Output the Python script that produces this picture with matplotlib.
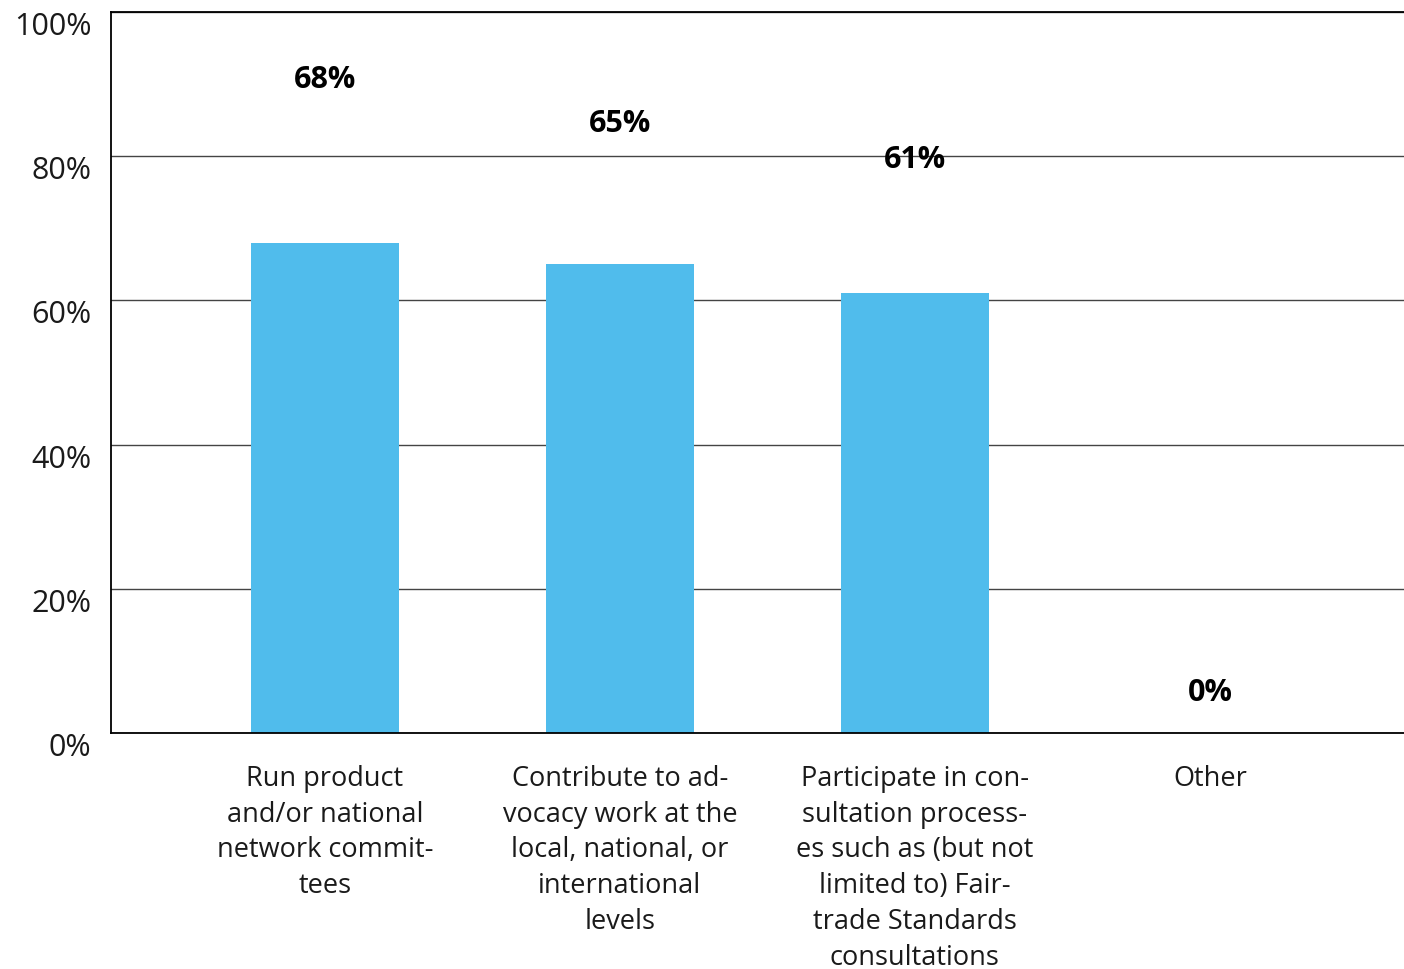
import numpy as np
from matplotlib import pyplot as plt

# data
categories = ["Run product\nand/or national\nnetwork commit-\ntees",
              "Contribute to ad-\nvocacy work at the\nlocal, national, or\ninternational\nlevels",
              "Participate in con-\nsultation process-\nes such as (but not\nlimited to) Fair-\ntrade Standards\nconsultations",
              "Other"]
values = [68, 65, 61, 0]
value_labels = ["68%", "65%", "61%", "0%"]
label_y = [90.6, 84.4, 79.5, 5.5]   # where the value labels sit (data units)
yticks = [0, 20, 40, 60, 80, 100]

plt.rcParams['font.family'] = ['Open Sans', 'DejaVu Sans']

fig = plt.figure(figsize=(14.04, 9.69), dpi=100)
ax = fig.add_axes([0.079, 0.2436, 0.921, 0.744])

x = np.arange(len(categories))
ax.bar(x, values, width=0.5, color='#50BCEC', zorder=2)

for i in range(len(x)):
    ax.text(x[i], label_y[i], value_labels[i], ha='center', va='center',
            fontsize=22, fontweight='bold', color='black', zorder=3)

ax.set_xlim(-0.725, 3.658)
ax.set_ylim(0, 100)
ax.set_yticks(yticks)
ax.set_yticklabels([f'{t}%' for t in yticks], fontsize=22,
                   va='top', color='#1a1a1a')
ax.yaxis.grid(True, color='#444444', linewidth=1, zorder=1)
ax.tick_params(axis='y', length=0, pad=14)
ax.set_xticks(x)
ax.set_xticklabels(categories, fontsize=19.5, linespacing=1.37,
                   color='#1a1a1a')
ax.tick_params(axis='x', length=0, pad=23)

for s in ['left', 'top', 'bottom']:
    ax.spines[s].set_color('black')
    ax.spines[s].set_linewidth(1.3)
ax.spines['right'].set_visible(False)

plt.savefig('out.png', dpi=100)
